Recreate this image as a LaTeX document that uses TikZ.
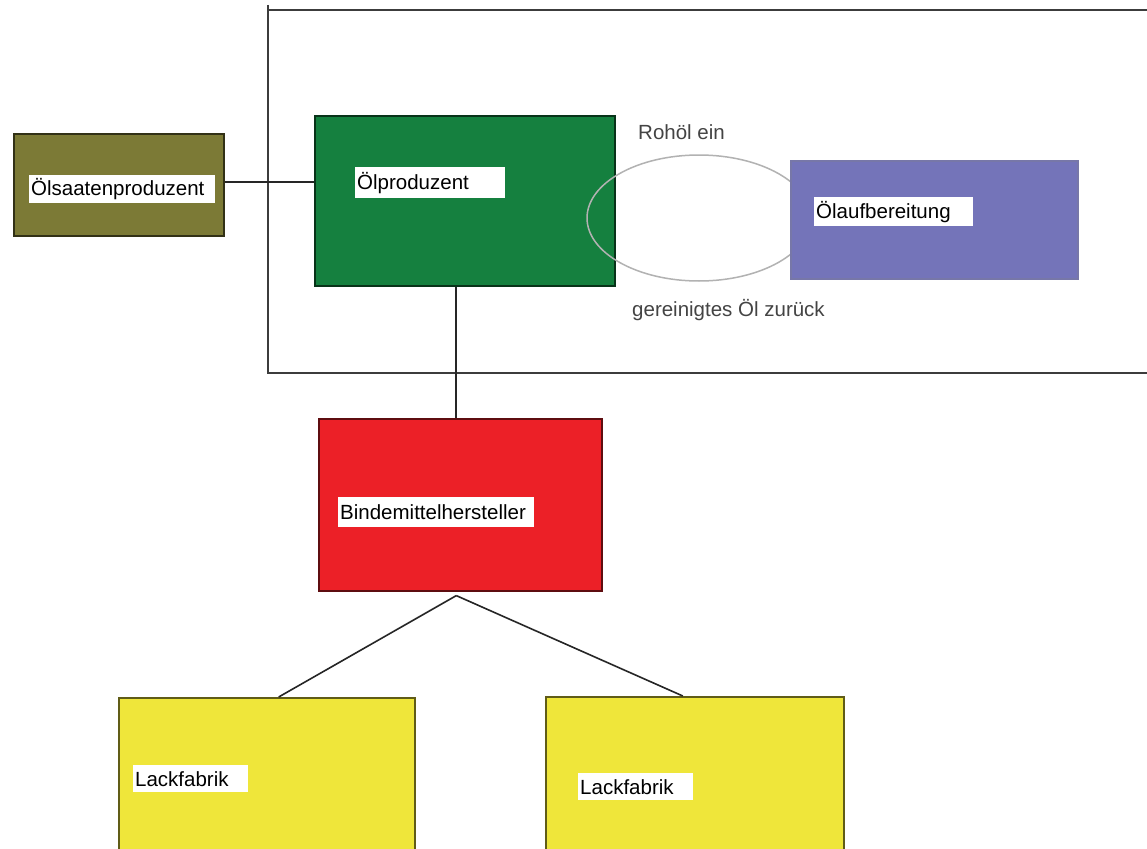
\documentclass[tikz,border=0pt]{standalone}
\usepackage{fontspec}
\setmainfont{Liberation Sans}
\usetikzlibrary{calc,shapes.geometric}
\definecolor{olivebox}{HTML}{7C7A36}
\definecolor{greenbox}{HTML}{15803F}
\definecolor{violetbox}{HTML}{7474B9}
\definecolor{redbox}{HTML}{EC2027}
\definecolor{yellowbox}{HTML}{EFE63A}
\definecolor{framegray}{HTML}{3C3C3C}
\definecolor{notegray}{HTML}{444444}
\begin{document}
\begin{tikzpicture}[x=1pt,y=-1pt,
  box/.style={draw=#1!40!black, line width=1.6pt, fill=#1, anchor=north west,
    inner sep=0pt},
  tag/.style={fill=white, anchor=north west, inner xsep=2pt, inner ysep=0pt,
    align=left, text=black, font=\fontsize{20.5}{22}\selectfont},
  note/.style={text=notegray, inner sep=0pt, font=\fontsize{20.5}{22}\selectfont},
  link/.style={draw=black!85, line width=1.6pt},
  frame/.style={draw=framegray, line width=2.2pt}]
\useasboundingbox (0,0) rectangle (1147,848);
\clip (0,0) rectangle (1147,848);
\fill[white] (0,0) rectangle (1147,848);

% plant boundary
\coordinate (fr-tl) at (268,5);
\coordinate (fr-bl) at (268,373);
\coordinate (fr-br) at (1150,373);
\coordinate (fr-top) at (268,10);
\coordinate (fr-tr) at (1150,10);
\draw[frame] (fr-tl) -- (fr-bl) -- (fr-br);
\draw[frame] (fr-top) -- (fr-tr);

% boxes
\node[box=olivebox, minimum width=210pt, minimum height=102pt] (saat) at (13,133) {};
\node[box=greenbox, minimum width=300pt, minimum height=170pt] (oelp) at (314,115) {};
\node[box=redbox, minimum width=283pt, minimum height=172pt] (bind) at (318,418) {};
\node[box=yellowbox, minimum width=296pt, minimum height=170pt] (lackA) at (118,697) {};
\node[box=yellowbox, minimum width=298pt, minimum height=170pt] (lackB) at (545,696) {};

% oil loop between producer and refining
\node[draw=gray!60, line width=1.5pt, ellipse, minimum width=224pt, minimum height=126pt,
  inner sep=0pt] (loop) at (699,218) {};
\node[box=violetbox, draw=violetbox!70!gray, minimum width=287pt, minimum height=118pt] (aufb) at (790,160) {};

% connectors
\draw[link] ([yshift=3pt]saat.east) -- ([yshift=3pt]saat.east -| oelp.west);
\coordinate (drop) at ($(oelp.south west)!0.47!(oelp.south east)$);
\draw[link] (drop) -- (drop |- bind.north);
\coordinate (fork) at ($(bind.south)+(-4,4)$);
\draw[link] (fork) -- ($(lackA.north west)!0.54!(lackA.north east)$);
\draw[link] (fork) -- ($(lackB.north west)!0.46!(lackB.north east)$);

% labels
\node[tag, text width=182pt, minimum height=28pt] (saat-t) at (29,175) {Ölsaatenproduzent};
\node[tag, text width=146pt, minimum height=31pt] (oelp-t) at (355,167) {Ölproduzent};
\node[tag, text width=155pt, minimum height=29pt] (aufb-t) at (814,197) {Ölaufbereitung};
\node[tag, text width=192pt, minimum height=30pt] (bind-t) at (338,497) {Bindemittelhersteller};
\node[tag, text width=111pt, minimum height=27pt] (lackA-t) at (133,765) {Lackfabrik};
\node[tag, text width=111pt, minimum height=27pt] (lackB-t) at (578,773) {Lackfabrik};
\node[note, anchor=west] (in) at (638,132) {Rohöl ein};
\node[note, anchor=west] (back) at (632,310) {gereinigtes Öl zurück};
\end{tikzpicture}
\end{document}
